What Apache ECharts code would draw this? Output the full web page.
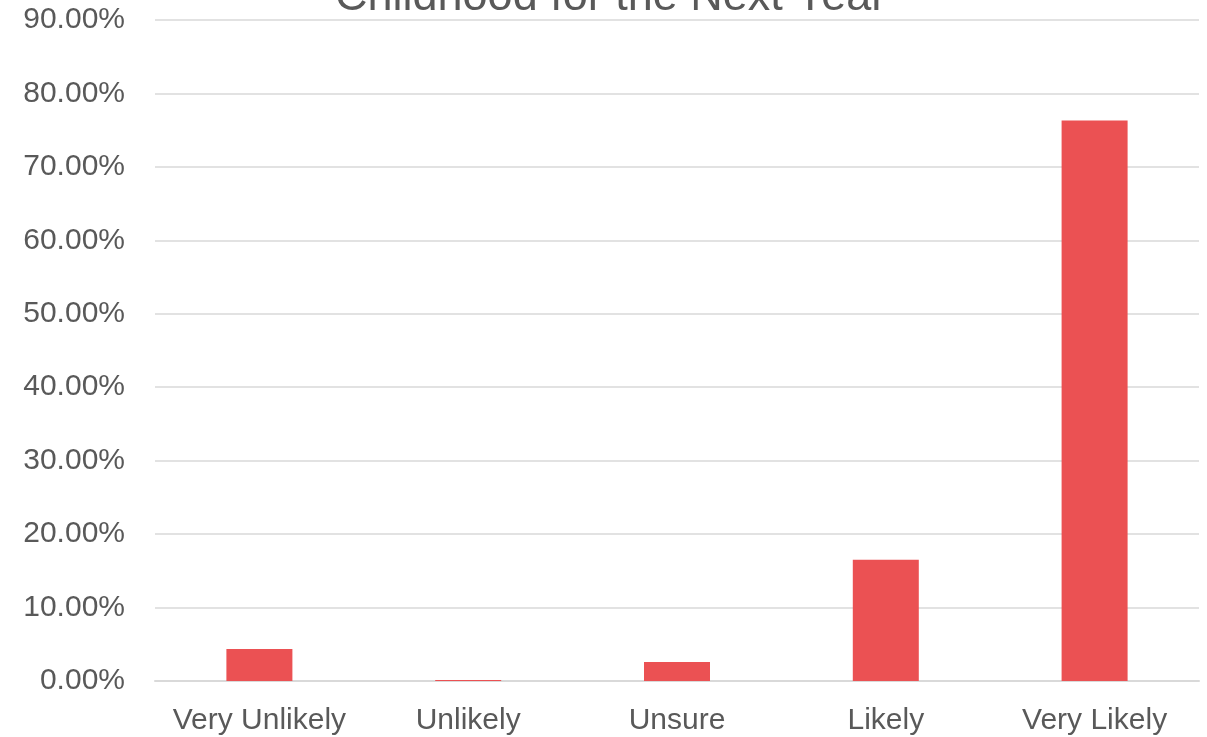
<!DOCTYPE html>
<html><head><meta charset="utf-8">
<script src="https://cdn.jsdelivr.net/npm/echarts@6/dist/echarts.min.js"></script>
<style>html,body{margin:0;padding:0;background:#fff}#c{width:1207px;height:737px}</style>
</head><body><div id="c"></div>
<script>
const titleText = 'Childhood for the Next Year';
const categories = ['Very Unlikely', 'Unlikely', 'Unsure', 'Likely', 'Very Likely'];
const values = [4.35, 0.15, 2.6, 16.5, 76.3];
const yTicks = {min: 0, max: 90, interval: 10};

const chart = echarts.init(document.getElementById('c'));
const font = '"Liberation Sans", Arial, sans-serif';
chart.setOption({
  animation: false,
  title: {
    text: titleText, left: 330, top: -30,
    textStyle: {fontFamily: font, fontSize: 45, fontWeight: 'normal', color: '#595959'}
  },
  grid: {left: 155, right: 8, top: 20, bottom: 56, containLabel: false},
  xAxis: {
    type: 'category', data: categories,
    axisLine: {lineStyle: {color: '#d9d9d9', width: 2}},
    axisTick: {show: false},
    axisLabel: {fontFamily: font, fontSize: 30, color: '#595959', margin: 25, interval: 0}
  },
  yAxis: {
    type: 'value', min: yTicks.min, max: yTicks.max, interval: yTicks.interval,
    axisLine: {show: false}, axisTick: {show: false},
    splitLine: {lineStyle: {color: '#d9d9d9', width: 1.5}},
    axisLabel: {fontFamily: font, fontSize: 30, color: '#595959', margin: 30,
      formatter: v => v.toFixed(2) + '%'}
  },
  series: [{
    type: 'bar', data: values, barWidth: 66,
    itemStyle: {color: '#eb5153'}
  }]
});
</script></body></html>
